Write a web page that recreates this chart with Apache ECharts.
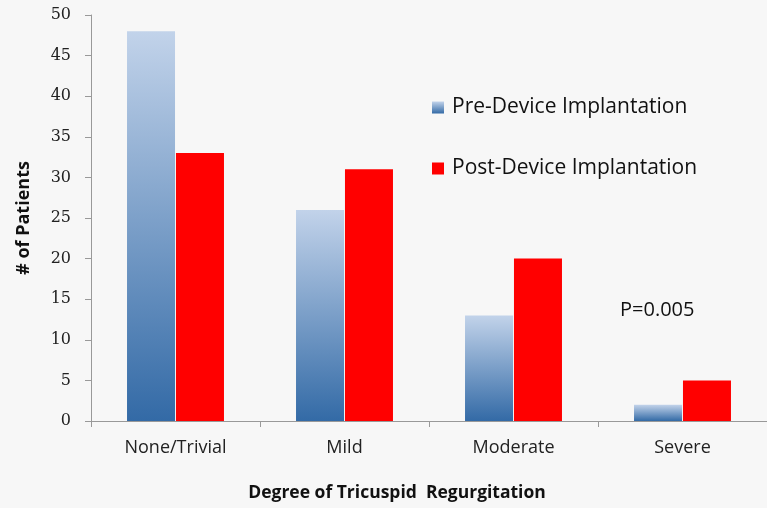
<!DOCTYPE html>
<html>
<head>
<meta charset="utf-8">
<script src="https://cdn.jsdelivr.net/npm/echarts@6/dist/echarts.min.js"></script>
<style>
  html, body { margin: 0; padding: 0; background: #f7f7f7; }
  #chart { width: 767px; height: 508px; }
</style>
</head>
<body>
<div id="chart"></div>
<script>
const categories = ['None/Trivial', 'Mild', 'Moderate', 'Severe']
const preValues = [48, 26, 13, 2]
const postValues = [33, 31, 20, 5]
const yTicks = [0, 5, 10, 15, 20, 25, 30, 35, 40, 45, 50]

const preGradient = new echarts.graphic.LinearGradient(0, 0, 0, 1, [
  { offset: 0, color: '#c2d3ea' },
  { offset: 1, color: '#336aa6' },
])

const chart = echarts.init(document.getElementById('chart'))
chart.setOption({
  backgroundColor: '#f7f7f7',
  animation: false,
  grid: { left: 91, top: 15, width: 680, height: 406 },
  legend: {
    orient: 'vertical',
    left: 427,
    top: 92,
    itemWidth: 12,
    itemHeight: 12,
    itemGap: 40,
    icon: 'rect',
    textStyle: { fontFamily: 'Open Sans', fontSize: 21, color: '#111', padding: [0, 0, 0, 3] },
    data: ['Pre-Device Implantation', 'Post-Device Implantation'],
  },
  xAxis: {
    type: 'category',
    data: categories,
    axisLine: { lineStyle: { color: '#999' } },
    axisTick: { show: true, length: 6, lineStyle: { color: '#999' } },
    axisLabel: { fontFamily: 'Open Sans', fontSize: 18, color: '#222', margin: 18 },
  },
  yAxis: {
    type: 'value',
    min: 0,
    max: 50,
    interval: 5,
    name: '# of Patients',
    nameLocation: 'middle',
    nameGap: 58,
    nameRotate: 90,
    nameTextStyle: { fontFamily: 'Open Sans', fontWeight: 'bold', fontSize: 18, color: '#111' },
    axisLine: { show: true, lineStyle: { color: '#999' } },
    axisTick: { show: true, length: 6, lineStyle: { color: '#999' } },
    splitLine: { show: false },
    axisLabel: {
      fontFamily: 'DejaVu Serif',
      fontSize: 16,
      color: '#222',
      margin: 20,
      formatter: v => yTicks.includes(v) ? String(v) : '',
    },
  },
  series: [
    {
      name: 'Pre-Device Implantation',
      type: 'bar',
      data: preValues,
      barWidth: 48,
      barGap: '2%',
      itemStyle: { color: preGradient },
    },
    {
      name: 'Post-Device Implantation',
      type: 'bar',
      data: postValues,
      barWidth: 48,
      itemStyle: { color: '#ff0000' },
    },
  ],
  graphic: [
    {
      type: 'text',
      x: 397,
      y: 493,
      style: {
        text: 'Degree of Tricuspid  Regurgitation',
        fontFamily: 'Open Sans', fontWeight: 'bold', fontSize: 17.5, fill: '#111',
        align: 'center', verticalAlign: 'middle',
      },
    },
    {
      type: 'text',
      x: 620,
      y: 310,
      style: {
        text: 'P=0.005', fontFamily: 'Open Sans', fontSize: 20, fill: '#111',
        verticalAlign: 'middle',
      },
    },
  ],
})
</script>
</body>
</html>
